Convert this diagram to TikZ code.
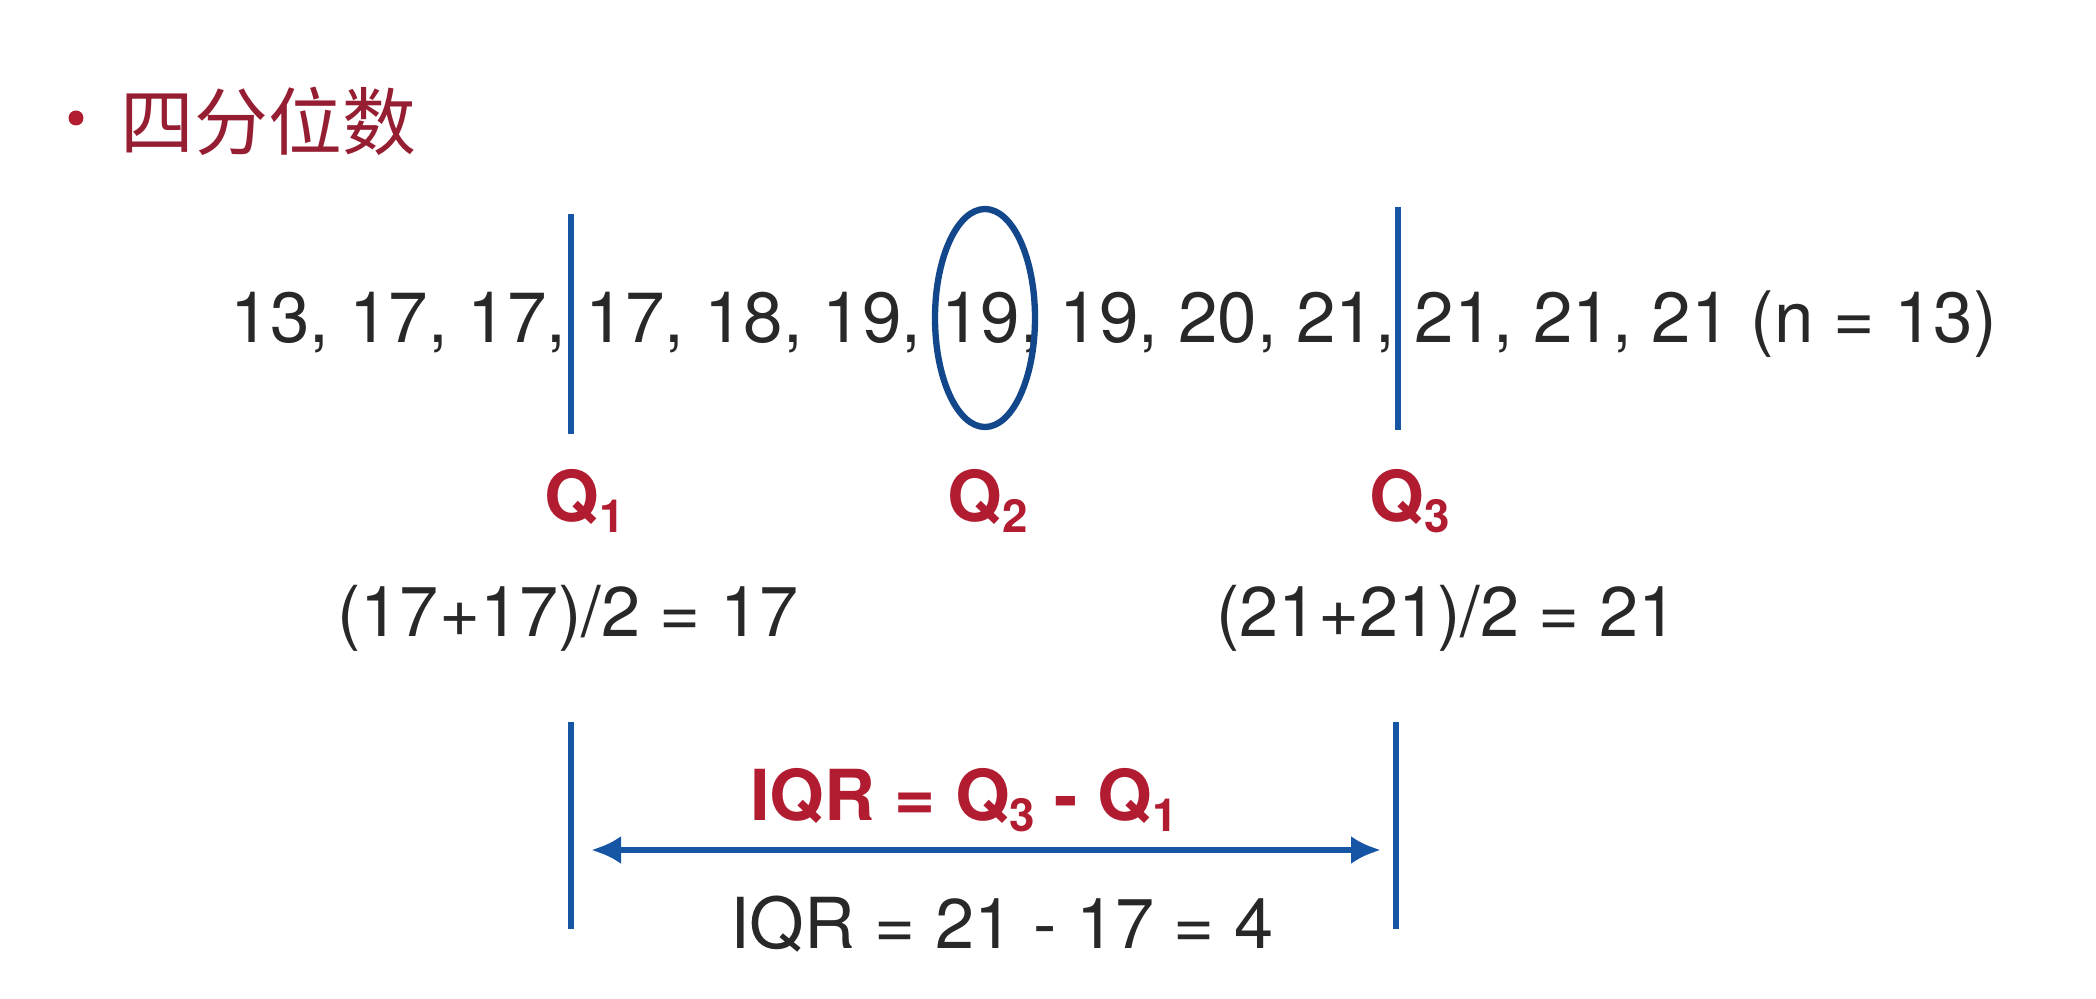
\documentclass[tikz,border=0pt]{standalone}
\usepackage{fontspec}
\setmainfont{TeX Gyre Heros}
\newfontfamily\cjk{Noto Sans CJK SC}
\usetikzlibrary{arrows.meta,positioning}

\definecolor{qred}{RGB}{178,28,48}
\definecolor{tred}{RGB}{150,30,50}
\definecolor{qblue}{RGB}{22,84,164}
\definecolor{ink}{RGB}{40,40,40}
\newcommand{\qsub}[1]{\raisebox{-0.3ex}{\fontsize{13}{13}\selectfont #1}}

\begin{document}
\begin{tikzpicture}[
  font=\fontsize{20}{24}\selectfont,
  txt/.style={inner sep=0pt, text=ink, anchor=base},
  qlab/.style={inner sep=0pt, text=qred, anchor=base, font=\fontsize{20}{24}\selectfont\bfseries},
  bar/.style={qblue, line width=1.5pt},
  arr/.style={{Latex[length=0.3cm,width=0.28cm]}-{Latex[length=0.3cm,width=0.28cm]}, qblue, line width=1.7pt}
]
\useasboundingbox[fill=white] (0,0) rectangle (20.96,9.98);

% heading
\node[circle, fill=qred, inner sep=0pt, minimum size=0.15cm] (dot) at (0.76,8.80) {};
\node[anchor=west, inner sep=0pt, text=tred, font=\cjk\fontsize{21}{24}\selectfont] (title) at (1.20,8.77) {四分位数};

% data row
\node[txt, anchor=base west, font=\fontsize{20.2}{24}\selectfont] (data) at (2.30,6.55)
  {13, 17, 17, 17, 18, 19, 19, 19, 20, 21, 21, 21, 21 (n = 13)};
\draw[bar] (5.71,7.84) -- (5.71,5.64);
\draw[bar] (13.98,7.91) -- (13.98,5.68);
\draw[qblue!85!black, line width=1.8pt] (9.85,6.80) ellipse (0.50 and 1.09);

% quartiles
\node[qlab] (q1) at (5.85,4.77) {Q\qsub{1}};
\node[qlab] (q2) at (9.88,4.77) {Q\qsub{2}};
\node[qlab] (q3) at (14.10,4.77) {Q\qsub{3}};
\node[txt] (f1) at (5.68,3.62) {(17+17)/2 = 17};
\node[txt] (f3) at (14.47,3.62) {(21+21)/2 = 21};

% IQR
\draw[bar] (5.71,2.76) -- (5.71,0.69);
\draw[bar] (13.96,2.76) -- (13.96,0.69);
\coordinate (al) at (5.91,1.48);
\coordinate (ar) at (13.81,1.48);
\draw[arr] (al) -- (ar);
\node[qlab] (iqr) at (9.64,1.78) {IQR = Q\qsub{3} - Q\qsub{1}};
\node[txt] (res) at (10.02,0.50) {IQR = 21 - 17 = 4};
\end{tikzpicture}
\end{document}
